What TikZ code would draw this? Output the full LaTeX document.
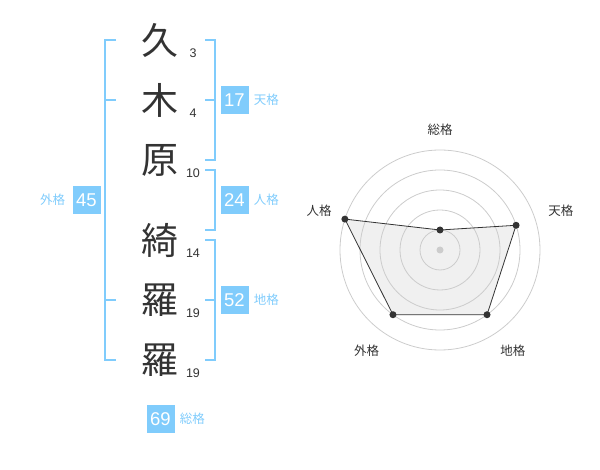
\documentclass[tikz,border=0pt]{standalone}
\usepackage{fontspec}
\setmainfont{Liberation Sans}
\newfontfamily\jpfont{Noto Sans CJK JP}
\usetikzlibrary{positioning, calc}
\definecolor{skyblue}{HTML}{80CCFC}
\definecolor{inkgray}{HTML}{333333}
\definecolor{ringgray}{HTML}{CCCCCC}
\definecolor{areagray}{HTML}{F0F0F0}
\tikzset{%
  kanji/.style     = {text = inkgray, inner sep = 0pt,
    font = \jpfont\fontsize{37}{37}\selectfont},
  strokenum/.style = {text = inkgray, inner sep = 0pt,
    font = \fontsize{12.5}{12.5}\selectfont},
  score/.style     = {fill = skyblue, text = white, inner sep = 0pt,
    minimum width = 28, minimum height = 28,
    font = \fontsize{18.5}{18.5}\selectfont}, % result box
  kaku/.style      = {text = skyblue, inner sep = 0pt,
    font = \jpfont\fontsize{12.5}{12.5}\selectfont}, % result name
  bracket/.style   = {draw = skyblue, line width = 2},
  ring/.style      = {draw = ringgray, line width = 0.8},
  vertex/.style    = {circle, fill = inkgray, inner sep = 0pt, minimum size = 7},
  axislabel/.style = {text = inkgray, inner sep = 0pt,
    font = \jpfont\fontsize{12.5}{12.5}\selectfont}
}

\begin{document}
\begin{tikzpicture}[x = 1pt, y = -1pt]
\useasboundingbox (0,0) rectangle (600,470);
% name
\draw
	(160,40) node [kanji] (k1) {久}
	(160,100) node [kanji] (k2) {木}
	(160,160) node [kanji] (k3) {原}
	(160,240) node [kanji] (k4) {綺}
	(160,300) node [kanji] (k5) {羅}
	(160,360) node [kanji] (k6) {羅};
% strokes
\draw
	(193,53) node [strokenum] (n1) {3}
	(193,113) node [strokenum] (n2) {4}
	(193,173) node [strokenum] (n3) {10}
	(193,253) node [strokenum] (n4) {14}
	(193,313) node [strokenum] (n5) {19}
	(193,373) node [strokenum] (n6) {19};
% brackets
\draw[bracket] (116,40) -- (105,40) -- (105,360) -- (116,360);
\draw[bracket] (105,100) -- (116,100);
\draw[bracket] (105,300) -- (116,300);
\draw[bracket] (205,40) -- (215,40) -- (215,160) -- (205,160);
\draw[bracket] (205,100) -- (215,100);
\draw[bracket] (205,170) -- (215,170) -- (215,230) -- (205,230);
\draw[bracket] (205,240) -- (215,240) -- (215,360) -- (205,360);
\draw[bracket] (205,300) -- (215,300);
% results
\draw
	(86.5,200) node [score] (gai) {45}
	(234.5,100) node [score] (ten) {17}
	(234.5,200) node [score] (jin) {24}
	(234.5,300) node [score] (chi) {52}
	(160.5,419) node [score] (sou) {69};
\node [kaku, left = 7 of gai] (gaiL) {外格};
\node [kaku, right = 5 of ten] (tenL) {天格};
\node [kaku, right = 5 of jin] (jinL) {人格};
\node [kaku, right = 5 of chi] (chiL) {地格};
\node [kaku, right = 5 of sou] (souL) {総格};
% radar
\coordinate (c) at (440,250);
\draw[fill = areagray, draw = none]
	($(c) + (-90:20)$) -- ($(c) + (-18:80)$) -- ($(c) + (54:80)$)
	-- ($(c) + (126:80)$) -- ($(c) + (198:100)$) -- cycle;
\foreach \r in {20, 40, 60, 80, 100}
	\draw[ring] (c) circle (\r);
\fill[ringgray] (c) circle (3.5);
\node [vertex] (p1) at ($(c) + (-90:20)$) {};
\node [vertex] (p2) at ($(c) + (-18:80)$) {};
\node [vertex] (p3) at ($(c) + (54:80)$) {};
\node [vertex] (p4) at ($(c) + (126:80)$) {};
\node [vertex] (p5) at ($(c) + (198:100)$) {};
\draw[inkgray, line width = 0.8] (p1.center) -- (p2.center) -- (p3.center)
	-- (p4.center) -- (p5.center) -- cycle;
% radar labels
\node [axislabel] (a1) at ($(c) + (-90:120)$) {総格};
\node [axislabel] (a2) at ($(c) + (-18:127)$) {天格};
\node [axislabel] (a3) at ($(c) + (54:124)$) {地格};
\node [axislabel] (a4) at ($(c) + (126:125)$) {外格};
\node [axislabel] (a5) at ($(c) + (198:127)$) {人格};
\end{tikzpicture}
\end{document}
